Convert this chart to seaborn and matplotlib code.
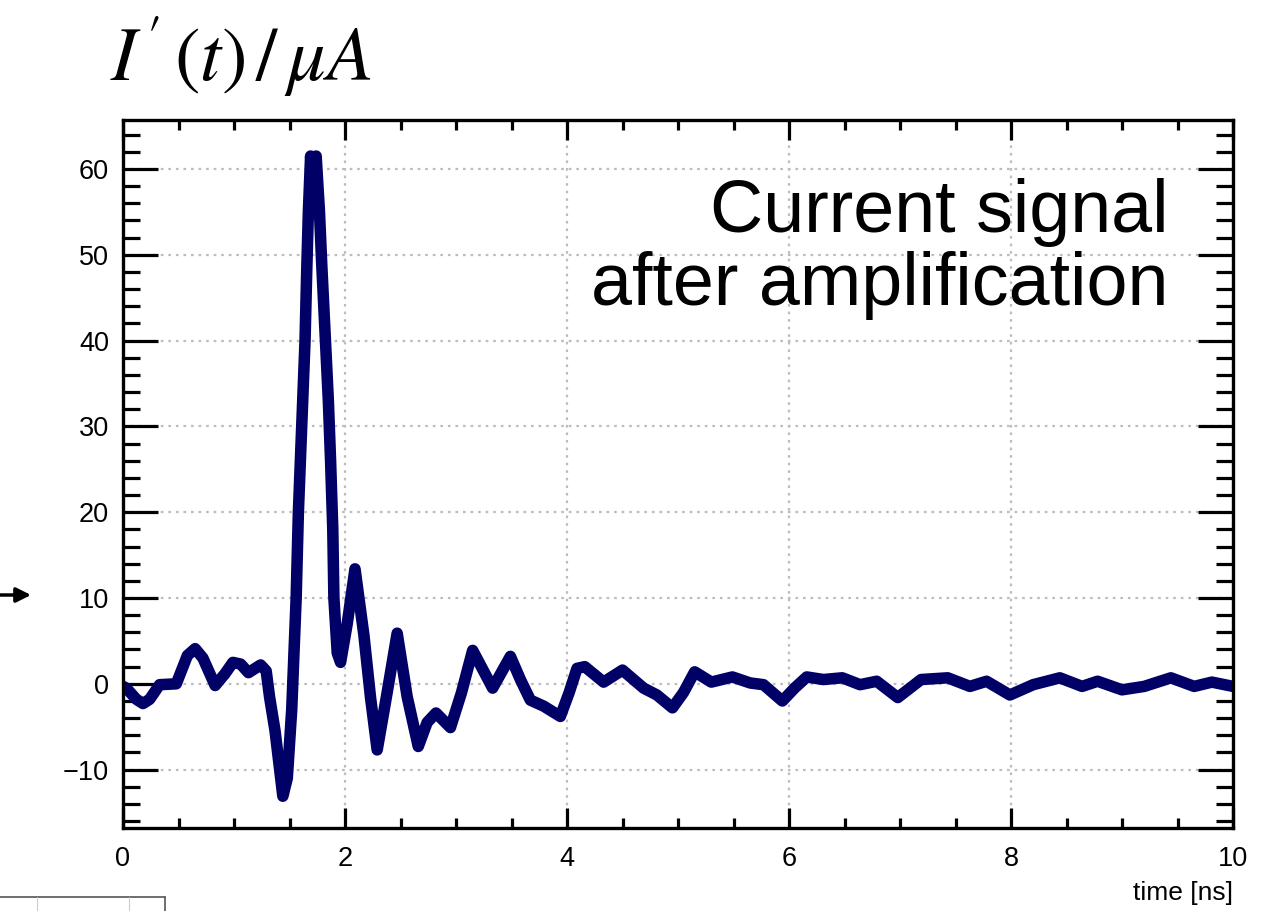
import matplotlib
matplotlib.use("Agg")
import matplotlib.pyplot as plt
from matplotlib.ticker import MultipleLocator
from matplotlib.lines import Line2D
import seaborn as sns
import pandas as pd

# ---- data ----
time_ns = [0.00, 0.03, 0.12, 0.18, 0.24, 0.33, 0.48, 0.58, 0.65, 0.72, 0.83, 0.92,
           0.99, 1.06, 1.13, 1.24, 1.29, 1.32,
           1.37, 1.44, 1.48, 1.52, 1.56, 1.58, 1.61, 1.64, 1.655, 1.67, 1.69, 1.71,
           1.74, 1.77, 1.79, 1.82, 1.85, 1.87, 1.89, 1.90, 1.93, 1.96, 2.02, 2.09,
           2.17, 2.23, 2.29, 2.38, 2.47, 2.56, 2.66, 2.74, 2.82, 2.95, 3.05, 3.15,
           3.33, 3.49, 3.58, 3.67, 3.79, 3.94, 4.02, 4.09, 4.16, 4.33, 4.50, 4.69,
           4.81, 4.95, 5.05, 5.15, 5.30, 5.49, 5.65, 5.77, 5.94, 6.05, 6.16, 6.31,
           6.48, 6.64, 6.79, 6.98, 7.19, 7.43, 7.63, 7.78, 7.99, 8.20, 8.44, 8.64,
           8.78, 9.00, 9.20, 9.44, 9.65, 9.81, 10.0]
current_uA = [-0.3, -0.5, -1.8, -2.3, -1.8, -0.1, 0.0, 3.3, 4.1, 3.0, -0.2, 1.2,
              2.5, 2.3, 1.3, 2.2, 1.5, -1.5,
              -5.5, -13.1, -11.0, -3.0, 10.0, 20.0, 30.0, 40.0, 48.0, 55.0, 61.5, 57.0,
              61.5, 55.0, 49.0, 41.0, 33.0, 26.0, 18.0, 10.0, 3.6, 2.5, 7.0, 13.4,
              5.7, -1.6, -7.7, -1.0, 5.9, -1.5, -7.3, -4.5, -3.4, -5.1, -1.0, 3.9,
              -0.5, 3.2, 0.5, -1.9, -2.6, -3.8, -1.0, 1.8, 2.0, 0.2, 1.6, -0.5,
              -1.3, -2.8, -1.0, 1.4, 0.2, 0.8, 0.1, -0.1, -2.0, -0.5, 0.8, 0.5,
              0.7, -0.1, 0.3, -1.6, 0.5, 0.7, -0.3, 0.3, -1.3, -0.1, 0.7, -0.3,
              0.3, -0.7, -0.3, 0.7, -0.3, 0.2, -0.3]
x_ticks = [0, 2, 4, 6, 8, 10]
y_ticks = [-10, 0, 10, 20, 30, 40, 50, 60]
y_tick_labels = ["\u221210", "0", "10", "20", "30", "40", "50", "60"]

df = pd.DataFrame({"time": time_ns, "current": current_uA})

sns.set_style("ticks")
plt.rcParams["font.family"] = ["Liberation Sans", "DejaVu Sans"]
plt.rcParams["mathtext.fontset"] = "stix"

fig = plt.figure(figsize=(12.81, 9.11), dpi=100)
ax = fig.add_axes([123 / 1281, 1 - 828 / 911, (1233 - 123) / 1281, (828 - 120) / 911])

sns.lineplot(data=df, x="time", y="current", ax=ax, color="#000066",
             linewidth=8.3, estimator=None, sort=False, solid_joinstyle="round",
             solid_capstyle="round")

ax.set_xlim(0, 10)
ax.set_ylim(-16.8, 65.7)
ax.set_xticks(x_ticks)
ax.set_xticklabels([str(v) for v in x_ticks])
ax.set_yticks(y_ticks)
ax.set_yticklabels(y_tick_labels)
ax.xaxis.set_minor_locator(MultipleLocator(0.5))
ax.yaxis.set_minor_locator(MultipleLocator(2))
ax.set_xlabel("")
ax.set_ylabel("")

ax.grid(True, which="major", linestyle=(0, (1.2, 2.2)), color="#bdbdbd", linewidth=1.6)

for s in ax.spines.values():
    s.set_visible(True)
    s.set_linewidth(2.4)
    s.set_color("black")

ax.tick_params(axis="both", which="both", direction="in", top=True, right=True,
               width=2.3, color="black", labelcolor="black")
ax.tick_params(axis="x", which="major", length=14.5, labelsize=19.5, pad=13)
ax.tick_params(axis="x", which="minor", length=7.5)
ax.tick_params(axis="y", which="major", length=25, labelsize=19.5, pad=10)
ax.tick_params(axis="y", which="minor", length=12.5)

# texts
fig.text(1168 / 1281, 1 - 232 / 911, "Current signal", ha="right", va="baseline",
         fontsize=53, color="black")
fig.text(1168 / 1281, 1 - 305 / 911, "after amplification", ha="right", va="baseline",
         fontsize=53, color="black")
fig.text(1233 / 1281, 1 - 900 / 911, "time [ns]", ha="right", va="baseline",
         fontsize=19, color="black")
fig.text(110 / 1281, 1 - 80 / 911, r"$I\,'\,(t)\,/\,\mu A$", ha="left", va="baseline",
         fontsize=55, color="black")

# arrow at left edge
fig.add_artist(matplotlib.patches.FancyArrowPatch(
    (0 / 1281, 1 - 595 / 911), (31 / 1281, 1 - 595 / 911),
    transform=fig.transFigure, arrowstyle="-|>", mutation_scale=22,
    color="black", linewidth=2.5, shrinkA=0, shrinkB=0))

# small box fragment at bottom-left
fig.add_artist(Line2D([0, 165 / 1281], [1 - 897 / 911, 1 - 897 / 911],
                      transform=fig.transFigure, color="#555555", linewidth=1.2))
fig.add_artist(Line2D([165 / 1281, 165 / 1281], [1 - 897 / 911, 0],
                      transform=fig.transFigure, color="#555555", linewidth=1.2))
for xx in (37, 129):
    fig.add_artist(Line2D([xx / 1281, xx / 1281], [1 - 897 / 911, 0],
                          transform=fig.transFigure, color="#cccccc", linewidth=0.8))

fig.savefig("out.png", dpi=100)
